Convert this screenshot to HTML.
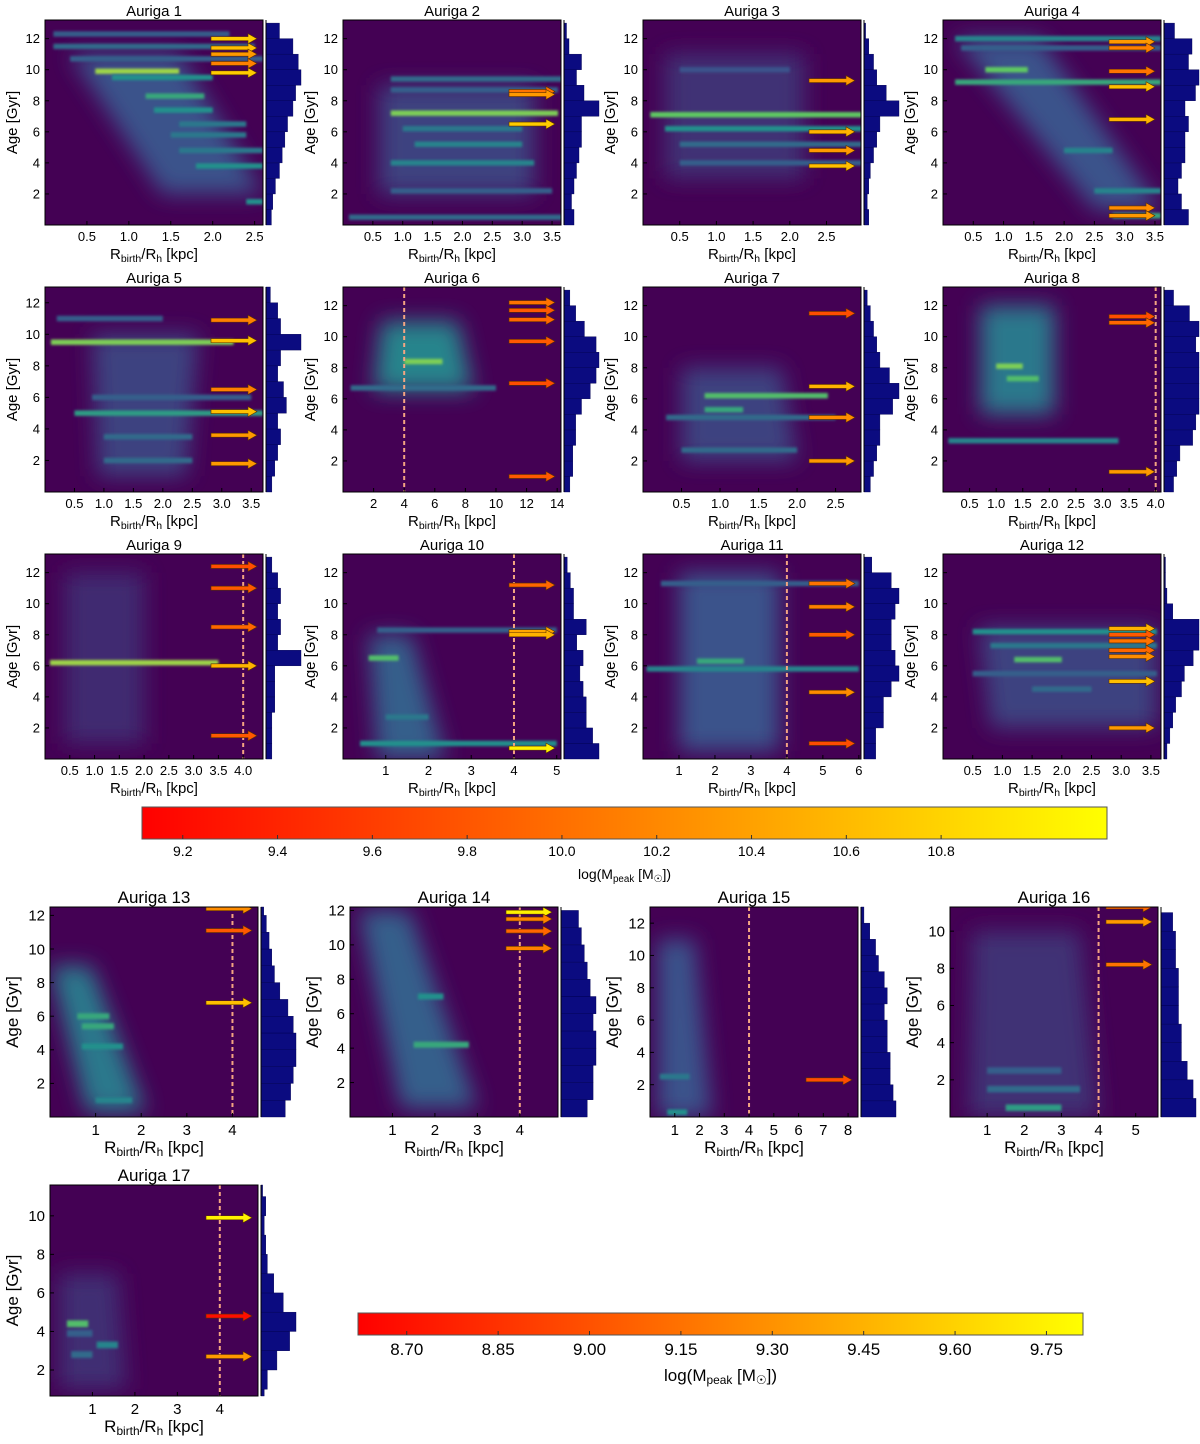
<!DOCTYPE html>
<html><head><meta charset="utf-8"><style>
body{margin:0;background:#fff;}
svg{display:block;font-family:"Liberation Sans",sans-serif;}
</style></head><body>
<svg id="fig" width="1200" height="1444" viewBox="0 0 1200 1444" xmlns="http://www.w3.org/2000/svg">
<defs>
<filter id="blurBig" x="-50%" y="-50%" width="200%" height="200%"><feGaussianBlur stdDeviation="11"/></filter>
<filter id="blurSm" x="-10%" y="-100%" width="120%" height="300%"><feGaussianBlur stdDeviation="1.2"/></filter>
<linearGradient id="cbar" x1="0" x2="1" y1="0" y2="0"><stop offset="0" stop-color="#ff0000"/><stop offset="1" stop-color="#ffff00"/></linearGradient>
</defs>
</svg>
<script>
// ---- data ----
const panelNames=["Auriga 1","Auriga 2","Auriga 3","Auriga 4","Auriga 5","Auriga 6","Auriga 7","Auriga 8","Auriga 9","Auriga 10","Auriga 11","Auriga 12","Auriga 13","Auriga 14","Auriga 15","Auriga 16","Auriga 17"];
const xTicks=[[0.5,1,1.5,2,2.5],[0.5,1,1.5,2,2.5,3,3.5],[0.5,1,1.5,2,2.5],[0.5,1,1.5,2,2.5,3,3.5],[0.5,1,1.5,2,2.5,3,3.5],[2,4,6,8,10,12,14],[0.5,1,1.5,2,2.5],[0.5,1,1.5,2,2.5,3,3.5,4],[0.5,1,1.5,2,2.5,3,3.5,4],[1,2,3,4,5],[1,2,3,4,5,6],[0.5,1,1.5,2,2.5,3,3.5],[1,2,3,4],[1,2,3,4],[1,2,3,4,5,6,7,8],[1,2,3,4,5],[1,2,3,4]];
const xTickLabels=[["0.5","1.0","1.5","2.0","2.5"],["0.5","1.0","1.5","2.0","2.5","3.0","3.5"],["0.5","1.0","1.5","2.0","2.5"],["0.5","1.0","1.5","2.0","2.5","3.0","3.5"],["0.5","1.0","1.5","2.0","2.5","3.0","3.5"],["2","4","6","8","10","12","14"],["0.5","1.0","1.5","2.0","2.5"],["0.5","1.0","1.5","2.0","2.5","3.0","3.5","4.0"],["0.5","1.0","1.5","2.0","2.5","3.0","3.5","4.0"],["1","2","3","4","5"],["1","2","3","4","5","6"],["0.5","1.0","1.5","2.0","2.5","3.0","3.5"],["1","2","3","4"],["1","2","3","4"],["1","2","3","4","5","6","7","8"],["1","2","3","4","5"],["1","2","3","4"]];
const xMax=[2.6,3.65,2.97,3.6,3.7,14.25,2.83,4.1,4.4,5.1,6.06,3.67,4.56,4.9,8.4,5.6,4.9];
const yMin=[0,0,0,0,0,0,0,0,0,0,0,0,0,0,0,0,0.65];
const yMax=[13.2,13.2,13.2,13.2,13.0,13.2,13.2,13.2,13.2,13.2,13.2,13.2,12.5,12.2,13.0,11.3,11.6];
const dashR=[null,null,null,null,null,4,null,4,4,4,4,null,4,4,4,4,4];
// glow: [age0, age1, rLeft@age0, rRight@age0, rLeft@age1, rRight@age1, level]
const glows=[[11,2,0.3,1.6,1.4,2.6,.25],[9,2,0.6,3.2,0.6,3.2,.2],[11,3,0.3,2.2,0.3,2.2,.15],[12,1,0.2,1.6,2.5,3.6,.25],[10,1,0.8,2.6,0.9,2.4,.2],[11,6.5,2.5,7.5,2,8.5,.45],[8,2,0.5,1.8,0.5,2,.2],[12,5,0.7,2.1,0.7,2.1,.4],[12,1,0.4,2,0.4,2,.13],[8,0,0.6,1.6,0.8,2.4,.3],[12,0.5,1,3.8,1,3.8,.25],[8.5,2,0.6,3.6,0.8,3.6,.2],[9,0.3,0,0.9,0.8,2.1,.4],[12,0.5,0.2,1.4,1.2,3,.3],[11,0,0.3,1.8,0.3,2.5,.25],[10,0,0.6,3.5,0.5,4,.15],[7,1,0.2,1.6,0.2,1.8,.14]];
// streaks: [age, r0, r1, level]
const streaks=[
[[12.3,0.1,2.2,.3],[11.5,0.1,2.5,.35],[10.7,0.3,2.6,.3],[9.9,0.6,1.6,.85],[9.5,0.8,2.0,.5],[8.3,1.2,1.9,.6],[7.4,1.3,2.0,.5],[6.5,1.6,2.4,.4],[5.8,1.5,2.4,.4],[4.8,1.6,2.6,.4],[3.8,1.8,2.6,.5],[1.5,2.4,2.6,.5]],
[[9.4,0.8,3.7,.35],[8.7,0.8,3.6,.3],[7.2,0.8,3.6,.8],[6.2,1,3,.4],[5.2,1.2,3,.45],[4,0.8,3.2,.45],[2.2,0.8,3.5,.3],[0.5,0.1,3.7,.35]],
[[7.1,0.1,3,.75],[6.2,0.3,3,.5],[5.2,0.5,3,.35],[4,0.5,3,.3],[10,0.5,2,.25]],
[[12,0.2,3.6,.45],[11.4,0.3,3.6,.3],[10,0.7,1.4,.75],[9.2,0.2,3.6,.6],[4.8,2,2.8,.45],[2.2,2.5,3.6,.45],[0.6,2.8,3.6,.6]],
[[9.5,0.1,3.2,.8],[11,0.2,2,.3],[6,0.8,3.5,.3],[5,0.5,3.7,.55],[3.5,1,2.5,.35],[2,1,2.5,.35]],
[[6.7,0.5,10,.35],[8.4,4,6.5,.8]],
[[6.2,0.8,2.4,.7],[5.3,0.8,1.3,.6],[4.8,0.3,2.5,.35],[2.7,0.5,2,.35]],
[[8.1,1,1.5,.8],[7.3,1.2,1.8,.7],[3.3,0.1,3.3,.45]],
[[6.2,0.1,3.5,.85]],
[[6.5,0.6,1.3,.7],[8.3,0.8,5,.3],[1,0.4,5,.5],[2.7,1,2,.4]],
[[6.3,1.5,2.8,.6],[5.8,0.1,6,.45],[11.3,0.5,6,.3]],
[[8.2,0.5,3.6,.5],[7.3,0.8,3.6,.4],[6.4,1.2,2,.7],[5.5,0.5,3.6,.3],[4.5,1.5,2.5,.35]],
[[6,0.6,1.3,.6],[5.4,0.7,1.4,.6],[4.2,0.7,1.6,.5],[1,1,1.8,.45]],
[[4.2,1.5,2.8,.6],[7,1.6,2.2,.5]],
[[0.3,0.7,1.5,.5],[2.5,0.4,1.6,.4]],
[[0.5,1.5,3,.55],[1.5,1,3.5,.35],[2.5,1,3,.3]],
[[4.4,0.4,0.9,.7],[3.3,1.1,1.6,.45],[2.8,0.5,1.0,.35],[3.9,0.4,1.0,.3]]];
// arrows: [age, colour value 0..1]
const arrows=[[[12,.8],[11.4,.75],[11,.6],[10.4,.5],[9.8,.8]],[[8.6,.45],[8.4,.6],[6.5,.8]],[[9.3,.6],[6,.7],[4.8,.6],[3.8,.75]],[[11.8,.6],[11.4,.5],[9.9,.45],[8.9,.75],[6.8,.7],[1.1,.55],[0.6,.6]],[[10.9,.5],[9.6,.75],[6.5,.5],[5.1,.75],[3.6,.6],[1.8,.6]],[[12.2,.45],[11.7,.35],[11.1,.4],[9.7,.35],[7,.3],[1,.35]],[[11.5,.3],[6.8,.7],[4.8,.55],[2,.6]],[[11.3,.3],[10.9,.4],[1.3,.6]],[[12.4,.3],[11,.35],[8.5,.4],[6,.7],[1.5,.35]],[[11.2,.4],[8.2,.65],[8,.7],[0.7,.95]],[[11.3,.45],[9.8,.5],[8,.35],[4.3,.55],[1,.3]],[[8.4,.7],[8,.35],[7.6,.45],[7,.4],[6.6,.55],[5,.75],[2,.6]],[[12.4,.55],[11.1,.35],[6.8,.75]],[[11.9,.95],[11.5,.5],[10.8,.4],[9.8,.5]],[[2.3,.3]],[[11.3,.4],[10.5,.6],[8.2,.45]],[[9.9,.95],[4.8,.05],[2.7,.6]]];
// histogram counts per 1-Gyr bin from age 0 upward
const hists=[[4,5,7,10,12,14,16,20,22,26,24,20,10],[8,6,8,10,12,14,14,28,16,10,14,4,2],[3,2,3,4,6,8,10,22,14,8,6,3,1],[14,10,8,10,12,12,14,12,18,20,14,16,6],[4,6,8,10,8,14,12,8,10,24,10,8,3],[4,6,6,8,8,12,18,22,24,22,14,8,4],[4,6,8,10,10,18,22,16,10,8,6,4,2],[6,8,10,18,20,22,22,22,22,20,22,16,6],[4,4,4,6,6,6,24,8,10,8,10,8,4],[22,18,14,14,12,10,12,8,14,6,6,4,2],[6,6,10,10,14,18,16,14,14,16,18,14,4],[2,4,6,8,12,14,20,24,24,6,2,1,1],[18,22,24,26,26,24,20,14,10,8,6,4,2],[18,22,22,24,24,22,24,20,18,16,14,12],[24,22,20,20,18,18,16,18,16,12,10,6,2],[24,22,18,14,14,12,12,12,10,10,8],[2,4,10,18,22,14,8,4,3,2,3,1]];
const cbTopTicks=[9.2,9.4,9.6,9.8,10.0,10.2,10.4,10.6,10.8];
const cbTopLabels=["9.2","9.4","9.6","9.8","10.0","10.2","10.4","10.6","10.8"];
const cbBotTicks=[8.70,8.85,9.00,9.15,9.30,9.45,9.60,9.75];
const cbBotLabels=["8.70","8.85","9.00","9.15","9.30","9.45","9.60","9.75"];

// ---- layout ----
const colL=[45,343,643,943], rowT=[20,287,554];
function layout(i){
  if(i<12){return {L:colL[i%4],T:rowT[Math.floor(i/4)],W:218,H:205,big:false};}
  if(i<16){return {L:[50,350,650,950][i-12],T:907,W:208,H:210,big:true};}
  return {L:50,T:1185,W:208,H:211,big:true};
}
const NS="http://www.w3.org/2000/svg";
const svg=document.getElementById('fig');
function mk(tag,attrs,parent){const e=document.createElementNS(NS,tag);for(const k in attrs)e.setAttribute(k,attrs[k]);(parent||svg).appendChild(e);return e;}
const vstops=[[68,1,84],[59,82,139],[33,145,140],[94,201,98],[253,231,37]];
function viridis(t){t=Math.max(0,Math.min(1,t))*4;const i=Math.min(3,Math.floor(t)),f=t-i;const a=vstops[i],b=vstops[i+1];return `rgb(${a.map((v,k)=>Math.round(v+(b[k]-v)*f)).join(',')})`;}
function autumn(v){return `rgb(255,${Math.round(255*v)},0)`;}

panelNames.forEach((name,i)=>{
  const p=layout(i);
  const fs=p.big?17:15, tfs=p.big?15:13;
  const g=mk('g',{});
  
  
  const xs=r=>p.L+r/xMax[i]*p.W, ys=a=>p.T+p.H-(a-yMin[i])/(yMax[i]-yMin[i])*p.H;
  const cp=mk('clipPath',{id:'cp'+i},g);mk('rect',{x:p.L,y:p.T,width:p.W,height:p.H},cp);
  const bg=mk('rect',{x:p.L,y:p.T,width:p.W,height:p.H,fill:'#440154'},g);
  
  
  const hg=mk('g',{'clip-path':`url(#cp${i})`},g);
  const gl=glows[i];
  const poly=mk('polygon',{points:`${xs(gl[2])},${ys(gl[0])} ${xs(gl[3])},${ys(gl[0])} ${xs(gl[5])},${ys(gl[1])} ${xs(gl[4])},${ys(gl[1])}`,fill:viridis(gl[6]),filter:'url(#blurBig)'},hg);
  
  
  streaks[i].forEach(s=>{
    const h=Math.max(3,0.35/(yMax[i]-yMin[i])*p.H);
    const r=mk('rect',{x:xs(s[1]),y:ys(s[0])-h/2,width:xs(s[2])-xs(s[1]),height:h,fill:viridis(s[3]),filter:'url(#blurSm)'},hg);
    
    
  });
  if(dashR[i]!==null){
    const d=mk('line',{x1:xs(dashR[i]),x2:xs(dashR[i]),y1:p.T,y2:p.T+p.H,stroke:'#f4a582','stroke-width':2,'stroke-dasharray':'4,3'},hg);
    
    
  }
  arrows[i].forEach(a=>{
    const y=ys(a[0]), x0=p.L+p.W-52, x1=p.L+p.W-6;
    const ag=mk('g',{},hg);
    
    
    mk('polygon',{points:`${x0},${y-2} ${x1-9},${y-2} ${x1-9},${y-5} ${x1},${y} ${x1-9},${y+5} ${x1-9},${y+2} ${x0},${y+2}`,fill:autumn(a[1]),stroke:'#5a3000','stroke-width':0.6},ag);
  });
  mk('rect',{x:p.L,y:p.T,width:p.W,height:p.H,fill:'none',stroke:'#000','stroke-width':1},g);
  xTicks[i].forEach((t,k)=>{
    const x=xs(t);
    mk('line',{x1:x,x2:x,y1:p.T+p.H,y2:p.T+p.H-4,stroke:'#000'},g);
    const tx=mk('text',{x:x,y:p.T+p.H+tfs+3,'font-size':tfs,'text-anchor':'middle'},g);tx.textContent=xTickLabels[i][k];
    
    
  });
  for(let a=2;a<yMax[i];a+=2){
    if(a<yMin[i]) continue;
    const y=ys(a);
    mk('line',{x1:p.L,x2:p.L+4,y1:y,y2:y,stroke:'#000'},g);
    const ty=mk('text',{x:p.L-5,y:y+tfs*0.35,'font-size':tfs,'text-anchor':'end'},g);ty.textContent=a;
    
    
  }
  const ti=mk('text',{x:p.L+p.W/2,y:p.T-4,'font-size':fs,'text-anchor':'middle'},g);ti.textContent=name;
  
  
  const xl=mk('text',{x:p.L+p.W/2,y:p.T+p.H+tfs+fs+(p.big?4:6),'font-size':fs,'text-anchor':'middle'},g);
  xl.innerHTML='R<tspan font-size="'+(fs*0.7)+'" dy="3">birth</tspan><tspan dy="-3">/R</tspan><tspan font-size="'+(fs*0.7)+'" dy="3">h</tspan><tspan dy="-3"> [kpc]</tspan>';
  
  
  const yx=p.L-(p.big?32:28), yy=p.T+p.H/2;
  const yl=mk('text',{x:yx,y:yy,'font-size':fs,'text-anchor':'middle',transform:`rotate(-90 ${yx} ${yy})`},g);yl.textContent='Age [Gyr]';
  
  
  const hx=p.L+p.W+3, hw=35, hv=hists[i], mx=Math.max(...hv);
  const hg2=mk('g',{},g);
  
  
  hv.forEach((v,k)=>{
    const y0=ys(k+1), y1=Math.min(ys(k), p.T+p.H);
    if(y1<=p.T||y0>=p.T+p.H) return;
    const yt=Math.max(y0,p.T);
    const b=mk('rect',{x:hx,y:yt,width:v/mx*hw,height:y1-yt,fill:'#0b0b80',stroke:'#000050','stroke-width':0.4},hg2);
    
    
  });
  mk('line',{x1:hx,x2:hx,y1:p.T,y2:p.T+p.H,stroke:'#000'},hg2);
});

function colorbar(L,T,W,H,vmin,vmax,ticks,labels,fs,name){
  const g=mk('g',{});
  
  
  mk('rect',{x:L,y:T,width:W,height:H,fill:'url(#cbar)',stroke:'#555'},g);
  ticks.forEach((t,k)=>{
    const x=L+(t-vmin)/(vmax-vmin)*W;
    mk('line',{x1:x,x2:x,y1:T+H,y2:T+H-4,stroke:'#333'},g);
    const tx=mk('text',{x:x,y:T+H+fs+3,'font-size':fs,'text-anchor':'middle'},g);tx.textContent=labels[k];
    
    
  });
  const lb=mk('text',{x:L+W/2,y:T+H+2*fs+12,'font-size':fs,'text-anchor':'middle'},g);
  lb.innerHTML='log(M<tspan font-size="'+(fs*0.7)+'" dy="3">peak</tspan><tspan dy="-3"> [M</tspan><tspan font-size="'+(fs*0.7)+'" dy="3">☉</tspan><tspan dy="-3">])</tspan>';
  
  
}
colorbar(142,807,965,32,9.114,11.15,cbTopTicks,cbTopLabels,14,'colorbar-top');
colorbar(358,1313,725,22,8.62,9.81,cbBotTicks,cbBotLabels,17,'colorbar-bottom');
</script>
</body></html>
